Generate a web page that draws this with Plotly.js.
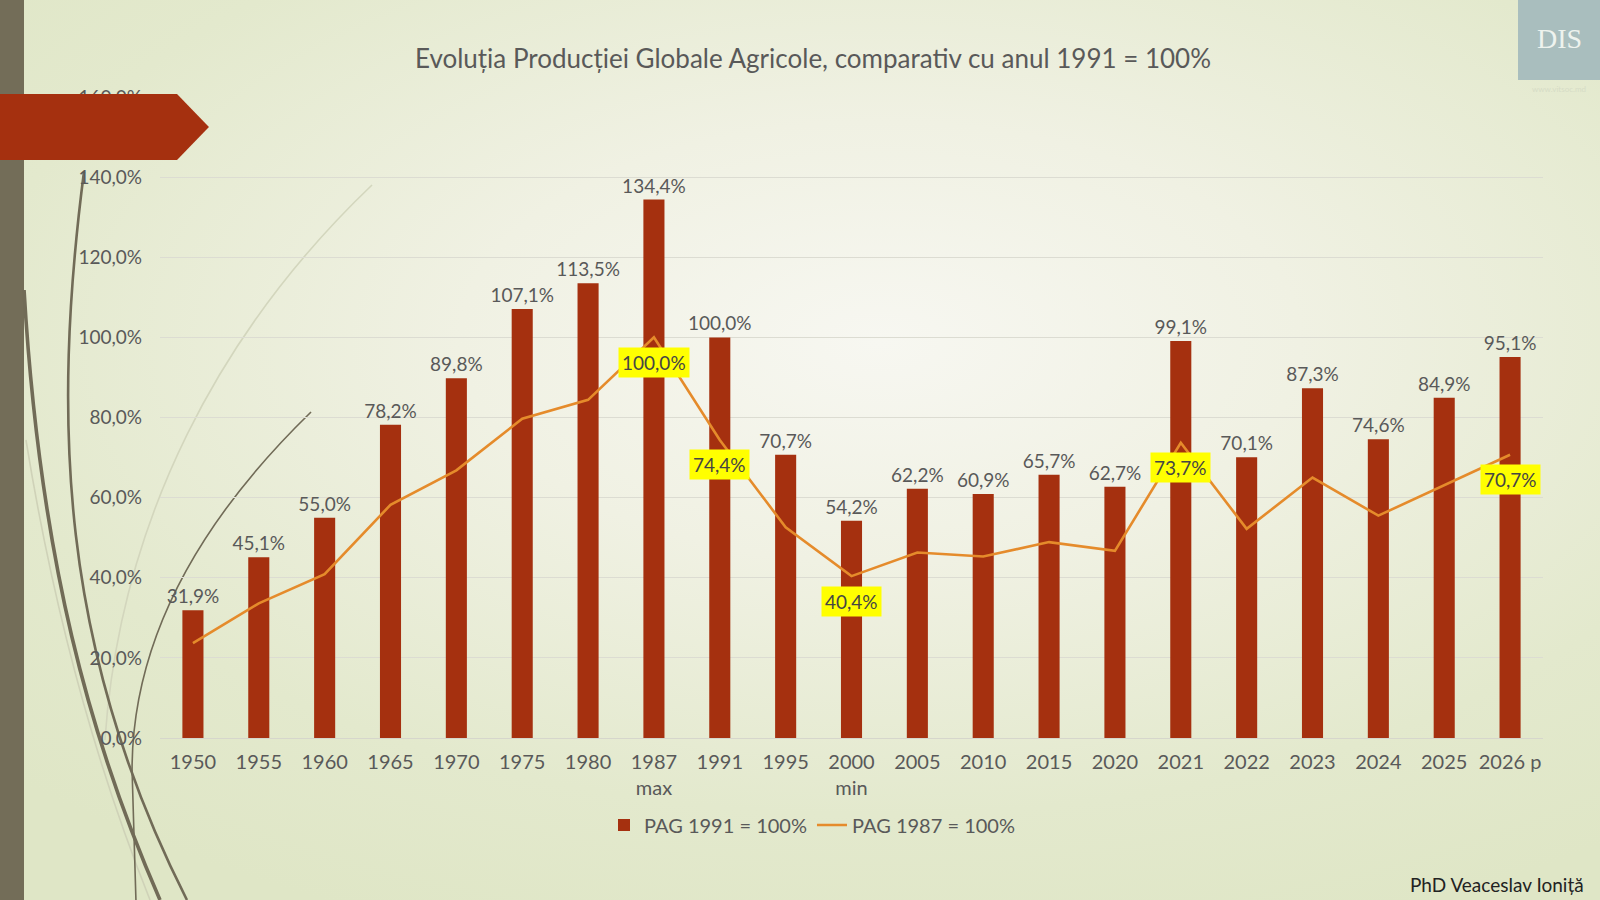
<!DOCTYPE html>
<html>
<head>
<meta charset="utf-8">
<script src="https://cdn.plot.ly/plotly-3.0.1.min.js"></script>
<style>
html,body{margin:0;padding:0;width:1600px;height:900px;overflow:hidden;}
body{background:radial-gradient(ellipse 75% 70% at 55% 38%, #f7f7f1 0%, #f0f1e3 35%, #e3e9cd 75%, #dfe6c6 100%);}
#chart{width:1600px;height:900px;}
</style>
</head>
<body>
<div id="chart"></div>
<script>
const categories = ['1950','1955','1960','1965','1970','1975','1980','1987<br>max','1991','1995','2000<br>min','2005','2010','2015','2020','2021','2022','2023','2024','2025','2026 p'];
const pag1991 = [31.9,45.1,55.0,78.2,89.8,107.1,113.5,134.4,100.0,70.7,54.2,62.2,60.9,65.7,62.7,99.1,70.1,87.3,74.6,84.9,95.1];
const pag1987 = [23.7,33.6,40.9,58.2,66.8,79.7,84.4,100.0,74.4,52.6,40.4,46.3,45.3,48.9,46.7,73.7,52.2,65.0,55.5,63.2,70.7];
const highlightIdx = [7,8,10,15,20];
const seriesNames = ['PAG 1991 = 100%','PAG 1987 = 100%'];
const titleText = 'Evoluția Producției Globale Agricole, comparativ cu anul 1991 = 100%';
const authorText = 'PhD Veaceslav Ioniță';

const FONT = 'Lato, "Open Sans", sans-serif';
const GRAY = '#595959';
const L = 160, R = 1543, T = 97, B = 738;
const W = R - L, H = B - T;
function P(x, y){ return ((x - L) / W).toFixed(4) + ',' + ((B - y) / H).toFixed(4); }

const fmt = v => v.toFixed(1).replace('.', ',') + '%';

const traces = [
  {
    type: 'bar', x: categories, y: pag1991, name: seriesNames[0],
    marker: {color: '#A5300F'},
    texttemplate: '%{y:.1f}%', textposition: 'outside', constraintext: 'none',
    textfont: {family: FONT, size: 19, color: GRAY},
    cliponaxis: false, hoverinfo: 'skip'
  },
  {
    type: 'scatter', mode: 'lines', x: categories, y: pag1987, name: seriesNames[1],
    line: {color: '#E58B2B', width: 2.6}, hoverinfo: 'skip'
  }
];

const annotations = highlightIdx.map(i => ({
  x: i, y: pag1987[i], xref: 'x', yref: 'y',
  text: fmt(pag1987[i]), showarrow: false, yshift: -25,
  bgcolor: '#FFFF00', borderpad: 3,
  font: {family: FONT, size: 19, color: '#454545'}
}));
annotations.push({
  xref: 'paper', yref: 'paper', x: (1586 - L) / W, y: (B - 884) / H,
  xanchor: 'right', yanchor: 'middle', showarrow: false,
  text: authorText, font: {family: FONT, size: 19, color: '#222222'}
});
annotations.push({
  xref: 'paper', yref: 'paper', x: (1559 - L) / W, y: (B - 38) / H,
  xanchor: 'center', yanchor: 'middle', showarrow: false,
  text: 'DIS', font: {family: 'Liberation Serif, serif', size: 28, color: '#eef3ee'}
});
annotations.push({
  xref: 'paper', yref: 'paper', x: (1559 - L) / W, y: (B - 89) / H,
  xanchor: 'center', yanchor: 'middle', showarrow: false,
  text: 'www.vitsoc.md', font: {family: FONT, size: 8, color: '#d6dcc6'}
});

const curve = (d, color, width) => ({type: 'path', xref: 'paper', yref: 'paper', path: d, line: {color: color, width: width}, layer: 'below'});

const shapes = [
  {type: 'rect', xref: 'paper', yref: 'paper', x0: (0 - L) / W, x1: (24 - L) / W, y0: (B - 900) / H, y1: (B - 0) / H, fillcolor: '#736d58', line: {width: 0}, layer: 'below'},
  curve('M ' + P(372,185) + ' C ' + P(220,330) + ' ' + P(120,520) + ' ' + P(105,740), '#d3d6bd', 1.6),
  curve('M ' + P(26,440) + ' C ' + P(60,650) + ' ' + P(110,800) + ' ' + P(150,900), '#cfd2b8', 1.6),
  curve('M ' + P(84,172) + ' C ' + P(52,420) + ' ' + P(60,650) + ' ' + P(187,900), '#716b57', 2.6),
  curve('M ' + P(24,290) + ' C ' + P(40,560) + ' ' + P(90,740) + ' ' + P(160,900), '#716b57', 3.6),
  curve('M ' + P(311,412) + ' C ' + P(200,520) + ' ' + P(132,640) + ' ' + P(132,770) + ' L ' + P(136,900), '#716b57', 1.6),
  {type: 'path', xref: 'paper', yref: 'paper', path: 'M ' + P(0,94) + ' L ' + P(177,94) + ' L ' + P(209,127) + ' L ' + P(177,160) + ' L ' + P(0,160) + ' Z', fillcolor: '#A5300F', line: {width: 0}, layer: 'above'},
  {type: 'rect', xref: 'paper', yref: 'paper', x0: (1518 - L) / W, x1: (1600 - L) / W, y0: (B - 80) / H, y1: (B - 0) / H, fillcolor: '#a9bebe', line: {width: 0}, layer: 'above'}
];

const layout = {
  width: 1600, height: 900,
  margin: {l: L, r: 1600 - R, t: T, b: 900 - B},
  paper_bgcolor: 'rgba(0,0,0,0)', plot_bgcolor: 'rgba(0,0,0,0)',
  separators: ', ',
  font: {family: FONT, color: GRAY},
  title: {text: titleText, font: {family: FONT, size: 26, color: GRAY}, xref: 'paper', x: (813 - L) / W, xanchor: 'center', yref: 'container', y: 1 - 59 / 900, yanchor: 'middle'},
  bargap: 0.68,
  xaxis: {type: 'category', tickfont: {family: FONT, size: 20, color: GRAY}, showgrid: false, showline: false, ticks: '', ticklabelstandoff: 10, fixedrange: true},
  yaxis: {range: [0, 160], dtick: 20, tickformat: '.1f', ticksuffix: '%', tickfont: {family: FONT, size: 19, color: GRAY}, gridcolor: '#dcdcd2', gridwidth: 1, zeroline: true, zerolinecolor: '#d6d6cc', zerolinewidth: 1, ticklabelstandoff: 17, fixedrange: true},
  legend: {orientation: 'h', x: (812 - L) / W, xanchor: 'center', y: (B - 825) / H, yanchor: 'middle', font: {family: FONT, size: 20, color: GRAY}, bgcolor: 'rgba(0,0,0,0)'},
  annotations: annotations,
  shapes: shapes,
  showlegend: true
};

Plotly.newPlot('chart', traces, layout, {displayModeBar: false, staticPlot: true});
</script>
</body>
</html>
